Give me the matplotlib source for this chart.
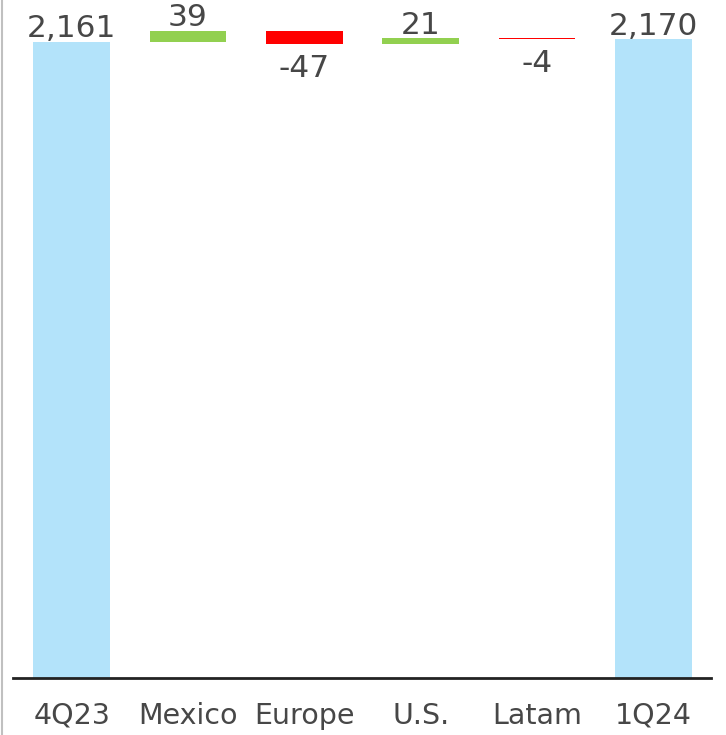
import matplotlib.pyplot as plt
import numpy as np

categories = ['4Q23', 'Mexico', 'Europe', 'U.S.', 'Latam', '1Q24']
start_value = 2161
deltas = [39, -47, 21, -4]
end_value = 2170

BLUE = '#b3e3fa'
GREEN = '#92d050'
RED = '#ff0000'
TEXT = '#474747'

# --- waterfall geometry from the data ---------------------------------
bottoms = [0]
heights = [start_value]
colors = [BLUE]
running = start_value
for d in deltas:
    bottoms.append(min(running, running + d))
    heights.append(abs(d))
    colors.append(GREEN if d > 0 else RED)
    running += d
bottoms.append(0)
heights.append(end_value)
colors.append(BLUE)
values = [start_value] + deltas + [end_value]

fig = plt.figure(figsize=(7.26, 7.35), dpi=100)
ax = fig.add_axes([13.5 / 726, 57 / 735, 698 / 726, 678 / 735])

x = np.arange(len(categories))
ax.bar(x, heights, bottom=bottoms, width=0.66, color=colors, linewidth=0)

for i, v in enumerate(values):
    top = bottoms[i] + heights[i]
    label = '{:,}'.format(v)
    if v >= 0:
        ax.annotate(label, (x[i], top), xytext=(0, -1), textcoords='offset points',
                    ha='center', va='bottom', fontsize=22.5, color=TEXT)
    else:
        ax.annotate(label, (x[i], bottoms[i]), xytext=(0, -7), textcoords='offset points',
                    ha='center', va='top', fontsize=22.5, color=TEXT)

ax.set_xlim(-0.5, 5.5)
ax.set_ylim(0, 2304)
ax.set_xticks(x)
ax.set_xticklabels(categories, fontsize=20.5, color=TEXT)
ax.tick_params(axis='x', length=0, pad=17)
ax.set_yticks([])
for s in ['top', 'left', 'right']:
    ax.spines[s].set_visible(False)
ax.spines['bottom'].set_linewidth(2)
ax.spines['bottom'].set_color('#222222')

# thin grey frame line on the left edge
fig.add_artist(plt.Line2D([2 / 726, 2 / 726], [0, 1], color='#c0c0c0', linewidth=1.5))

fig.savefig('out.png', dpi=100)
